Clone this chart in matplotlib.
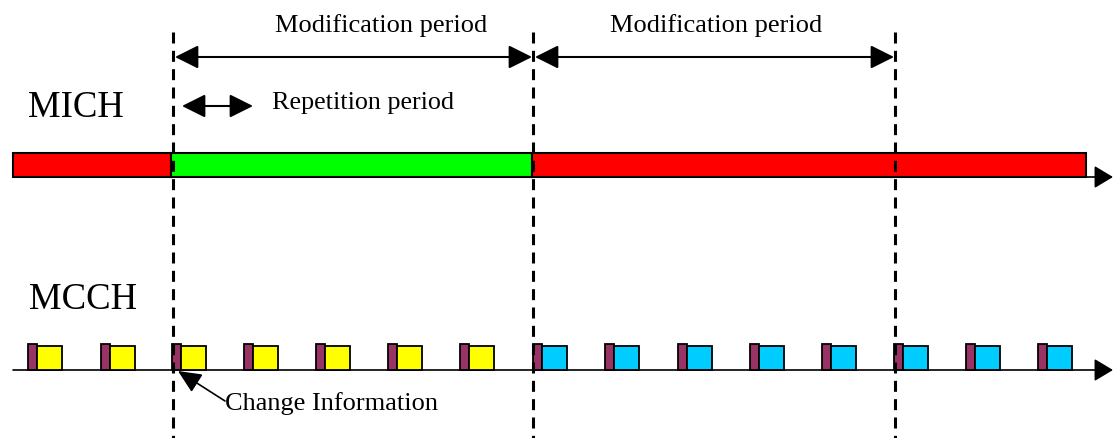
import matplotlib
matplotlib.use("Agg")
import matplotlib.pyplot as plt

# Timeline data (pixel-like time units along the x axis)
mich_starts = [13, 171, 532]
mich_ends = [171, 532, 1086]
mich_colors = ['#FF0000', '#00FF00', '#FF0000']

mod_bounds = [173, 533, 895]          # modification period boundaries
mod_label_x = [381, 716]
rep_period = [182, 253]               # repetition period arrow

mcch_starts = [28, 101, 172, 244, 316, 388, 460, 533, 605, 678, 750, 822, 894, 966, 1038]
mcch_colors = ['#FFFF00'] * 7 + ['#00CCFF'] * 8
change_w = 9
block_w = 25

fig = plt.figure(figsize=(11.14, 4.39), dpi=100)
ax = fig.add_axes([0, 0, 1, 1])
ax.set_xlim(0, 1114)
ax.set_ylim(439, 0)
ax.axis('off')

serif = 'Liberation Serif'

# MICH bar
mich_y = 166
ax.barh([mich_y] * 3, [e - s for s, e in zip(mich_starts, mich_ends)], left=mich_starts,
        height=24, color=mich_colors, edgecolor='black', linewidth=1.5, zorder=2)
ax.annotate('', xy=(1113, 178), xytext=(13, 178),
            arrowprops=dict(arrowstyle='-|>,head_length=0.8,head_width=0.48', mutation_scale=14.4,
                            color='black', lw=1.2, shrinkA=0, shrinkB=0), zorder=1)

# MCCH axis and blocks
mcch_y = 371
ax.annotate('', xy=(1113, mcch_y), xytext=(13, mcch_y),
            arrowprops=dict(arrowstyle='-|>,head_length=0.8,head_width=0.48', mutation_scale=14.4,
                            color='black', lw=1.2, shrinkA=0, shrinkB=0), zorder=1)
ax.bar(mcch_starts, [-26] * len(mcch_starts), width=change_w, bottom=mcch_y, align='edge',
       color='#993366', edgecolor='black', linewidth=1.3, zorder=3)
ax.bar([s + change_w for s in mcch_starts], [-24] * len(mcch_starts), width=block_w,
       bottom=mcch_y, align='edge', color=mcch_colors, edgecolor='black', linewidth=1.3, zorder=3)

# dashed boundaries
for x in mod_bounds:
    ax.plot([x, x], [33, 439], color='black', lw=2.2, linestyle=(0, (3.6, 2.4)), zorder=4)

# modification period arrows
for a, b, lx in zip(mod_bounds[:-1], mod_bounds[1:], mod_label_x):
    ax.annotate('', xy=(b - 1, 58), xytext=(a + 2, 58),
                arrowprops=dict(arrowstyle='<|-|>,head_length=1.0,head_width=0.5', mutation_scale=14.4,
                                color='black', lw=1.5, shrinkA=0, shrinkB=0))
    ax.text(lx, 32, 'Modification period', family=serif, fontsize=19,
            ha='center', va='baseline')

# repetition period
ax.annotate('', xy=(rep_period[1], 107), xytext=(rep_period[0], 107),
            arrowprops=dict(arrowstyle='<|-|>,head_length=1.0,head_width=0.5', mutation_scale=14.4,
                            color='black', lw=1.5, shrinkA=0, shrinkB=0))
ax.text(272, 109, 'Repetition period', family=serif, fontsize=18.8, ha='left', va='baseline')

# channel labels
ax.text(28, 117, 'MICH', family=serif, fontsize=26.5, ha='left', va='baseline')
ax.text(29, 309, 'MCCH', family=serif, fontsize=26.5, ha='left', va='baseline')

# change information pointer
ax.annotate('', xy=(178, 372), xytext=(225, 402),
            arrowprops=dict(arrowstyle='-|>,head_length=1.1,head_width=0.5', mutation_scale=13,
                            color='black', lw=1.2, shrinkA=0, shrinkB=0), zorder=5)
ax.text(225, 410, 'Change Information', family=serif, fontsize=19, ha='left', va='baseline')

fig.savefig('out.png', dpi=100)
